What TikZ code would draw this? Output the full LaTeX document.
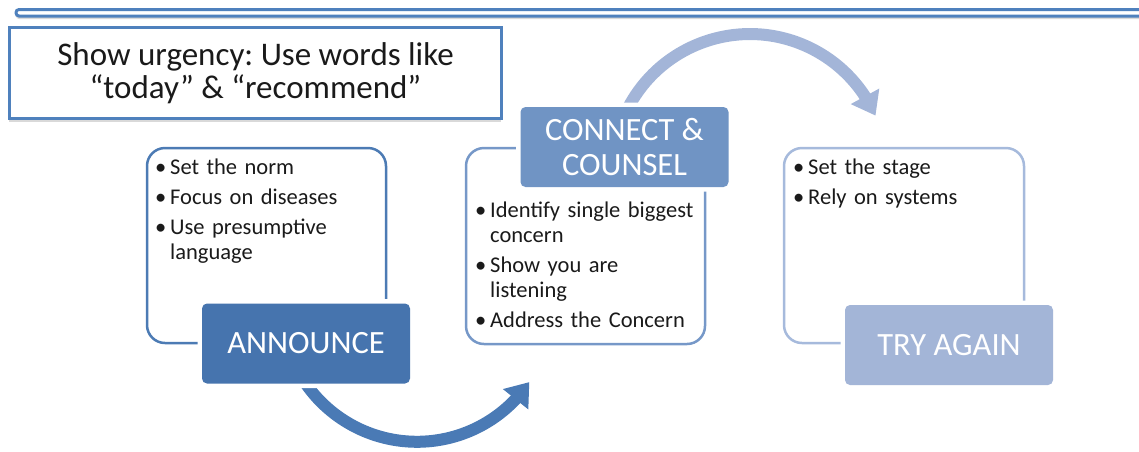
\documentclass[tikz,border=0pt]{standalone}
\usepackage{fontspec}
\setmainfont{Carlito}
\frenchspacing
\usetikzlibrary{arrows.meta,bending,shadows}

\definecolor{barblue}{HTML}{4F81BD}
\definecolor{deepblue}{HTML}{4674AE}
\definecolor{deepline}{HTML}{4C7BB4}
\definecolor{midblue}{HTML}{7094C4}
\definecolor{midline}{HTML}{7698C8}
\definecolor{paleblue}{HTML}{A3B5D7}
\definecolor{paleline}{HTML}{A6BADC}
\definecolor{arrowdeep}{HTML}{4A7AB5}
\definecolor{arrowpale}{HTML}{A3B5D8}
\definecolor{txt}{HTML}{1A1A1A}

% bullet mark and the indent of a wrapped line
\newcommand\bul{\makebox[15pt][l]{\textbullet}}
\newcommand\cont{\hspace*{15pt}}

\tikzset{
  listframe/.style={draw=#1, line width=2.5pt, rounded corners=18pt, fill=white},
  stagebox/.style={fill=#1, rounded corners=5pt, text=white,
    preaction={draw=white, line width=9pt, rounded corners=5pt},
    font=\fontsize{32.5}{35}\selectfont, align=center, inner sep=0pt,
    minimum width=208pt, minimum height=80pt},
  bullets/.style={anchor=base west, text width=240pt, align=left, inner sep=0pt,
    text=txt, font=\fontsize{22.5}{25}\selectfont},
  bigarrow/.style={draw=#1, line width=12pt,
    -{Triangle[length=22pt, width=31pt, flex]}},
}

\begin{document}
\begin{tikzpicture}[x=1pt, y=-1pt]
\useasboundingbox (0,0) rectangle (1139,451);

% header rule
\draw[barblue, line width=3pt, fill=white, rounded corners=3pt,
      drop shadow={shadow xshift=0pt, shadow yshift=-3pt, opacity=0.3}]
  (16,9.5) rectangle (1160,16);

% urgency note
\node[draw=barblue, line width=3pt, fill=white, minimum width=492pt, minimum height=91pt,
      inner sep=0pt, align=center, text=txt, font=\fontsize{33}{33}\selectfont,
      drop shadow={shadow xshift=-1pt, shadow yshift=-3pt, opacity=0.3}]
  (urgency) at (255.5,73) {Show urgency: Use words like\\``today'' \& ``recommend''};

% framed lists
\draw[listframe=deepline] (147,148) rectangle (386,343);
\draw[listframe=midline] (466,148) rectangle (705,344);
\draw[listframe=paleline] (784,148) rectangle (1024,343);

\node[bullets] (announcelist) at (155,174) {%
  \bul Set the norm\\[5pt]
  \bul Focus on diseases\\[5pt]
  \bul Use presumptive\\
  \cont language};

\node[bullets] (connectlist) at (475,217) {%
  \bul Identify single biggest\\
  \cont concern\\[5pt]
  \bul Show you are\\
  \cont listening\\[5pt]
  \bul Address the Concern};

\node[bullets] (trylist) at (793,174) {%
  \bul Set the stage\\[5pt]
  \bul Rely on systems};

% curved arrows between the stages
\coordinate (announcestart) at (306,384);
\draw[bigarrow=arrowdeep] (announcestart) arc[start angle=145, end angle=34, radius=135.5];
\coordinate (connectstart) at (628.5,107);
\draw[bigarrow=arrowpale] (connectstart) arc[start angle=208, end angle=336, radius=137.5];

% stage labels
\node[stagebox=deepblue] (announce) at (306,343.5) {ANNOUNCE};
\node[stagebox=midblue] (connect) at (624.5,147) {CONNECT \&\\COUNSEL};
\node[stagebox=paleblue] (tryagain) at (949,345) {TRY AGAIN};
\end{tikzpicture}
\end{document}
